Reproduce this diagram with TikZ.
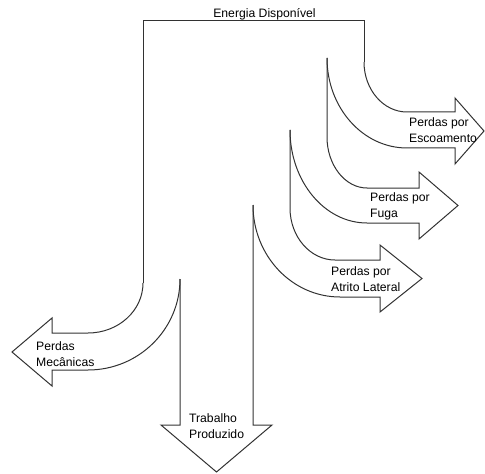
\documentclass[tikz,border=0pt]{standalone}
\usepackage{fontspec}
\setmainfont{Liberation Sans}
\begin{document}
\tikzset{every picture/.style={line width=0.75pt}}
\tikzset{fluxo/.style={color={rgb, 255:red, 50; green, 50; blue, 50 }, line join=miter}}
\tikzset{rotulo/.style={inner sep=0.75pt, xscale=0.75, yscale=0.75, align=left, font={\fontsize{12.2}{15.5}\selectfont}}}

\begin{tikzpicture}[x=0.75pt,y=0.75pt,yscale=-1,xscale=1]
\useasboundingbox (0,0) rectangle (485,474); %set diagram to 485 x 474

%Shape: Free Drawing [id:caixa] 
\draw  [fluxo] (364,62) -- (364,21) -- (143,21) -- (143,283) ;
%Shape: Free Drawing [id:mecanicas] 
\draw  [fluxo] (143,283) .. controls (143,310.6) and (118.4,333) .. (88,333) -- (52,333) -- (52,318) -- (12,352) -- (52,386) -- (52,370) -- (88,370) .. controls (138.8,370) and (180,329.2) .. (180,279) ;
%Shape: Free Drawing [id:trabalho] 
\draw  [fluxo] (180,279) -- (180,425) -- (161,425) -- (216.5,472) -- (272,425) -- (253,425) -- (253,205) ;
%Shape: Free Drawing [id:atrito] 
\draw  [fluxo] (253,205) .. controls (253,255.8) and (292,297) .. (340,297) -- (380,297) -- (380,312) -- (422,278.5) -- (380,245) -- (380,260) -- (335,260) .. controls (310.2,260) and (290,236.7) .. (290,208) -- (290,130) ;
%Shape: Free Drawing [id:fuga] 
\draw  [fluxo] (290,130) .. controls (290,181.3) and (324.5,223) .. (367,223) -- (419,223) -- (419,239) -- (458,205.5) -- (419,172) -- (419,188) -- (367,188) .. controls (345,188) and (327,165) .. (327,137) -- (327,58) ;
%Shape: Free Drawing [id:escoamento] 
\draw  [fluxo] (327,58) .. controls (327,107.7) and (362.8,148) .. (407,148) -- (455,148) -- (455,164) -- (484,131) -- (455,98) -- (455,112) -- (407,112) .. controls (383.3,112) and (364,89.6) .. (364,62) ;

% Text Node
\draw (264.5,7) node (energia) [anchor=north][rotulo]  {Energia Disponível};
% Text Node
\draw (408,117) node (tEscoamento) [anchor=north west][rotulo]  {Perdas por\\Escoamento};
% Text Node
\draw (369,192) node (tFuga) [anchor=north west][rotulo]  {Perdas por\\Fuga};
% Text Node
\draw (330,266) node (tAtrito) [anchor=north west][rotulo]  {Perdas por\\Atrito Lateral};
% Text Node
\draw (35,341) node (tMecanicas) [anchor=north west][rotulo]  {Perdas\\Mecânicas};
% Text Node
\draw (188,413) node (tTrabalho) [anchor=north west][rotulo]  {Trabalho\\Produzido};


\end{tikzpicture}
\end{document}
